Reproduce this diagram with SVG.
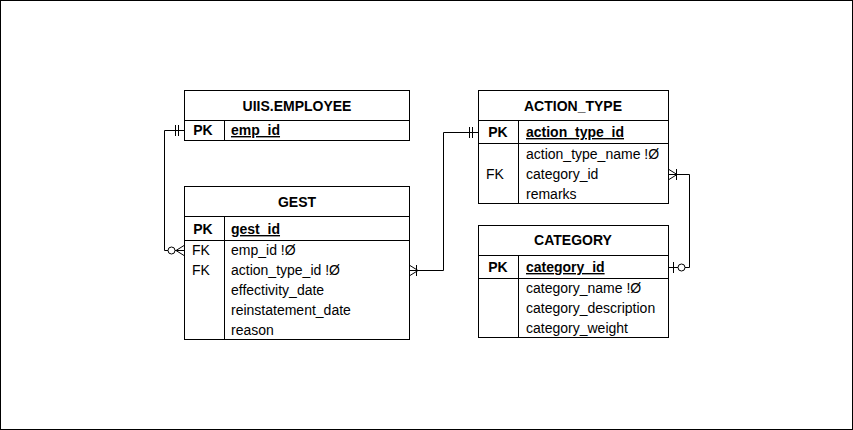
<svg xmlns="http://www.w3.org/2000/svg" width="853" height="430" viewBox="0 0 853 430">
<style>
.box{fill:#fff;stroke:#000;stroke-width:1}
.ln{stroke:#000;stroke-width:1;fill:none}
.t{font-family:"Liberation Sans",Arial,sans-serif;font-size:14px;fill:#000}
.b{font-weight:bold}
.c{text-anchor:middle}
.u{text-decoration:underline}
.con{stroke:#000;stroke-width:1;fill:none}
.ci{stroke:#000;stroke-width:1;fill:#fff}
</style>
<rect x="0.5" y="0.5" width="852" height="429" fill="#fff" stroke="#000"/>
<g id="connectors">
<path class="con" d="M184,130.5 H164.5 V250.5 H184"/>
<path class="con" d="M175.5,125 V136 M178.5,125 V136"/>
<circle class="ci" cx="171.5" cy="250.5" r="3.5"/>
<path class="con" d="M176,250.5 L184,245.5 M176,250.5 L184,255.5"/>
<path class="con" d="M410,270.5 H443.5 V132.5 H478"/>
<path class="con" d="M418,270.5 L410,265.5 M418,270.5 L410,275.5 M416.5,265 V276"/>
<path class="con" d="M469.5,127 V138 M472.5,127 V138"/>
<path class="con" d="M669,174.5 H689.5 V267.5 H669"/>
<path class="con" d="M677,174.5 L669,169.5 M677,174.5 L669,179.5 M676.5,169 V180"/>
<path class="con" d="M673.5,262 V273"/>
<circle class="ci" cx="681.5" cy="267.5" r="3.5"/>
</g>
<g id="employee">
<rect class="box" x="184.5" y="90.5" width="225" height="50"/>
<path class="ln" d="M184.5,120.5 H409.5 M224.5,120.5 V140.5"/>
<text class="t b c" x="297" y="110.5">UIIS.EMPLOYEE</text>
<text class="t b c" x="203" y="135">PK</text>
<text class="t b u" x="231" y="135">emp_id</text>
</g>
<g id="gest">
<rect class="box" x="184.5" y="186.5" width="225" height="153"/>
<path class="ln" d="M184.5,216.5 H409.5 M184.5,240.5 H409.5 M224.5,216.5 V339.5"/>
<text class="t b c" x="297" y="207">GEST</text>
<text class="t b c" x="203" y="234">PK</text>
<text class="t b u" x="231" y="234">gest_id</text>
<text class="t c" x="201" y="255">FK</text>
<text class="t" x="231" y="255">emp_id !Ø</text>
<text class="t c" x="201" y="275">FK</text>
<text class="t" x="231" y="275">action_type_id !Ø</text>
<text class="t" x="231" y="295">effectivity_date</text>
<text class="t" x="231" y="315">reinstatement_date</text>
<text class="t" x="231" y="335">reason</text>
</g>
<g id="action_type">
<rect class="box" x="478.5" y="90.5" width="190" height="113"/>
<path class="ln" d="M478.5,120.5 H668.5 M478.5,143.5 H668.5 M518.5,120.5 V203.5"/>
<text class="t b c" x="573" y="110.5">ACTION_TYPE</text>
<text class="t b c" x="498" y="137">PK</text>
<text class="t b u" x="526" y="137">action_type_id</text>
<text class="t" x="526" y="159">action_type_name !Ø</text>
<text class="t c" x="495" y="179">FK</text>
<text class="t" x="526" y="179">category_id</text>
<text class="t" x="526" y="199">remarks</text>
</g>
<g id="category">
<rect class="box" x="478.5" y="225.5" width="190" height="112"/>
<path class="ln" d="M478.5,255.5 H668.5 M478.5,278.5 H668.5 M518.5,255.5 V337.5"/>
<text class="t b c" x="573" y="245">CATEGORY</text>
<text class="t b c" x="498" y="272">PK</text>
<text class="t b u" x="526" y="272">category_id</text>
<text class="t" x="526" y="293">category_name !Ø</text>
<text class="t" x="526" y="313">category_description</text>
<text class="t" x="526" y="333">category_weight</text>
</g>
</svg>
